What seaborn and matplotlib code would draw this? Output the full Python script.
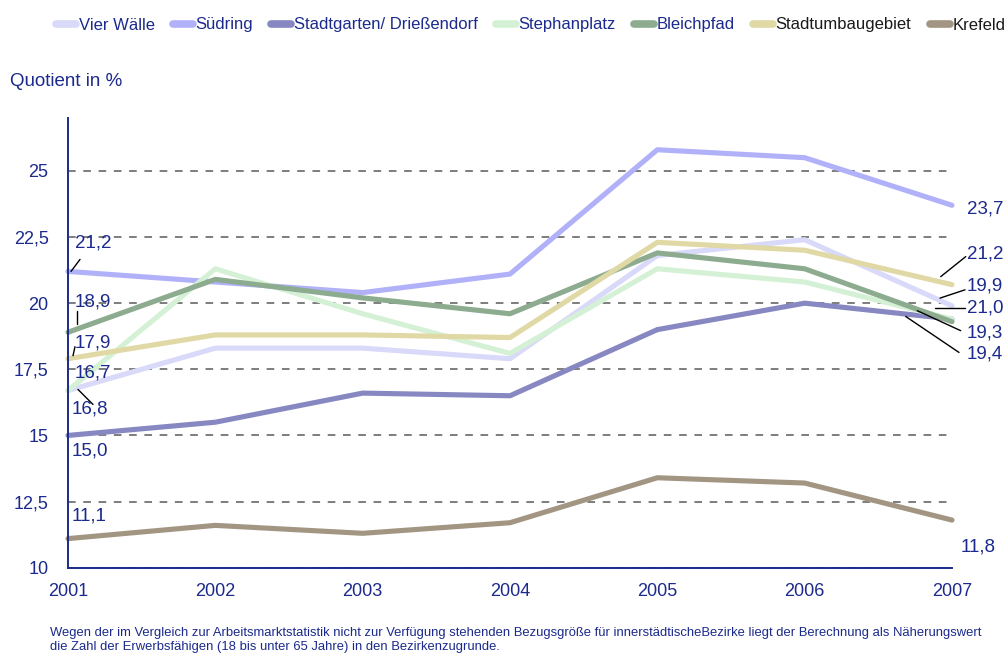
import matplotlib
matplotlib.use('Agg')
import matplotlib.pyplot as plt
import pandas as pd
import seaborn as sns

# Data
years = [2001, 2002, 2003, 2004, 2005, 2006, 2007]
areas = ['Vier Wälle', 'Südring', 'Stadtgarten/ Drießendorf', 'Stephanplatz',
         'Bleichpfad', 'Stadtumbaugebiet', 'Krefeld']

vier_waelle = [16.7, 18.3, 18.3, 17.9, 21.8, 22.4, 19.9]
suedring = [21.2, 20.8, 20.4, 21.1, 25.8, 25.5, 23.7]
stadtgarten = [15.0, 15.5, 16.6, 16.5, 19.0, 20.0, 19.4]
stephanplatz = [16.7, 21.3, 19.6, 18.1, 21.3, 20.8, 19.4]
bleichpfad = [18.9, 20.9, 20.2, 19.6, 21.9, 21.3, 19.3]
stadtumbau = [17.9, 18.8, 18.8, 18.7, 22.3, 22.0, 20.7]
krefeld = [11.1, 11.6, 11.3, 11.7, 13.4, 13.2, 11.8]

# value labels as printed in the chart
start_labels = ['16,7', '21,2', '15,0', '16,8', '18,9', '17,9', '11,1']
end_labels = ['19,9', '23,7', '19,4', '21,0', '19,3', '21,2', '11,8']

yticks = [10, 12.5, 15, 17.5, 20, 22.5, 25]
ytick_labels = ['10', '12,5', '15', '17,5', '20', '22,5', '25']

footnote = ('Wegen der im Vergleich zur Arbeitsmarktstatistik nicht zur Verfügung stehenden '
            'Bezugsgröße für innerstädtischeBezirke liegt der Berechnung als Näherungswert\n'
            'die Zahl der Erwerbsfähigen (18 bis unter 65 Jahre) in den Bezirkenzugrunde.')

colors = ['#d9d9fa', '#b1b1f9', '#8787c2', '#d5f1d5', '#8cab8f', '#e0d9a6', '#a29683']
navy = '#1b2a8c'

series = [vier_waelle, suedring, stadtgarten, stephanplatz, bleichpfad, stadtumbau, krefeld]
df = pd.DataFrame({
    'year': years * len(areas),
    'area': [a for a in areas for _ in years],
    'value': [v for s in series for v in s],
})

sns.set_theme(style='white')
plt.rcParams['font.family'] = ['Liberation Sans', 'DejaVu Sans']

fig = plt.figure(figsize=(10.07, 6.57), dpi=100)
ax = fig.add_axes([68 / 1007, 1 - 567.7 / 657, 884 / 1007, 449.7 / 657])

sns.lineplot(data=df, x='year', y='value', hue='area', hue_order=areas,
             palette=colors, linewidth=3.7, ax=ax, legend=True)
for line in ax.lines:
    line.set_solid_capstyle('round')
    line.set_solid_joinstyle('round')
    line.set_clip_on(False)

ax.set_xlim(2001, 2007)
ax.set_ylim(10, 27)
ax.set_xticks(years)
ax.set_xticklabels([str(y) for y in years])
ax.set_yticks(yticks)
ax.set_yticklabels(ytick_labels)
ax.tick_params(axis='both', length=0, labelsize=13, labelcolor=navy)
ax.tick_params(axis='y', pad=14)
ax.tick_params(axis='x', pad=11)
ax.set_xlabel('')
ax.set_ylabel('')

ax.yaxis.grid(True, linestyle=(0, (5, 5)), color='#5a5a5a', linewidth=1.1)
ax.set_axisbelow(True)
for side in ['top', 'right']:
    ax.spines[side].set_visible(False)
for side in ['left', 'bottom']:
    ax.spines[side].set_color(navy)
    ax.spines[side].set_linewidth(1.4)
    ax.spines[side].set_zorder(5)

# legend at the top of the figure
handles, labels = ax.get_legend_handles_labels()
ax.get_legend().remove()
leg = fig.legend(handles, labels, loc='center', bbox_to_anchor=(0.527, 1 - 25 / 657),
                 ncol=7, frameon=False, fontsize=12, handlelength=1.2,
                 handletextpad=0.15, columnspacing=1.1)
for h in leg.legend_handles:
    h.set_linewidth(5.5)
    h.set_solid_capstyle('round')
for i, t in enumerate(leg.get_texts()):
    t.set_color('#1a1a1a' if i >= 5 else navy)

fig.text(10 / 1007, 1 - 82 / 657, 'Quotient in %', fontsize=13.5, color=navy,
         ha='left', va='center')
fig.text(50 / 1007, 1 - 640 / 657, footnote, fontsize=9.4, color=navy,
         ha='left', va='center', linespacing=1.3)

# value labels: offsets in pixels from the line's first / last point (y down)
start_text = [(7, -17), (7, -28), (4, 16), (4, 19), (7, -30), (7, -16), (4, -23)]
start_leader = [None, ((3, 0), (12, -12)), None, ((10, -1), (25, 14)),
                ((9, -21), (9, -8)), ((7, -12), (5, -3)), None]
end_text = [(15, -20), (15, 4), (15, 34.7), (15, -10.7), (15, 11.3), (15, -30.3), (9, 27)]
end_leader = [((-12, -7.7), (13, -16)), None, ((-46.3, -2.6), (7, 33.4)),
              ((-17, -10.7), (13, -10.7)), ((-34.7, -11), (8.7, 9)),
              ((-11.3, -8), (13.7, -28)), None]

inv = ax.transData.inverted()


def to_data(x, y, dx, dy):
    px, py = ax.transData.transform((x, y))
    return inv.transform((px + dx, py - dy))


for i, s in enumerate(series):
    for x, y, lab, toff, lead in [(years[0], s[0], start_labels[i], start_text[i], start_leader[i]),
                                  (years[-1], s[-1], end_labels[i], end_text[i], end_leader[i])]:
        tx, ty = to_data(x, y, *toff)
        ax.text(tx, ty, lab, fontsize=13.5, color=navy, ha='left', va='center', clip_on=False)
        if lead is not None:
            a = to_data(x, y, *lead[0])
            b = to_data(x, y, *lead[1])
            ax.plot([a[0], b[0]], [a[1], b[1]], color='black', linewidth=1, clip_on=False,
                    zorder=6)

fig.savefig('out.png', dpi=100)
